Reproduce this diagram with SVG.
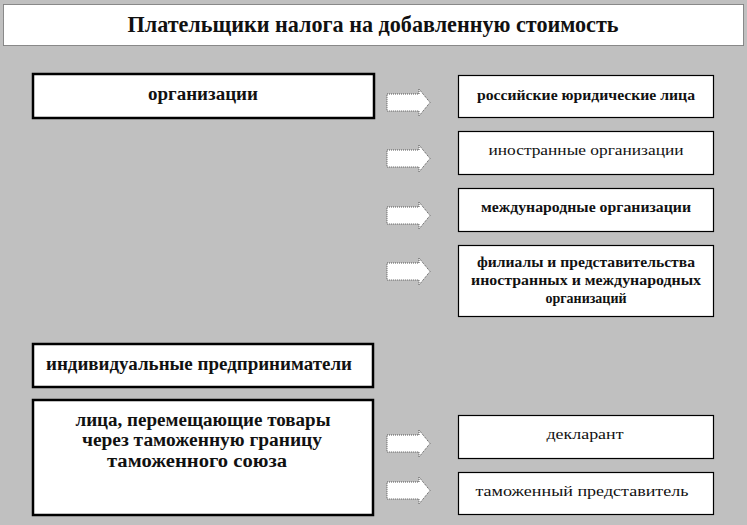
<svg xmlns="http://www.w3.org/2000/svg" width="747" height="525" viewBox="0 0 747 525">
<style>
.bg{fill:#c0c0c0}
.lbox{fill:#fff;stroke:#000;stroke-width:2.5}
.rbox{fill:#fff;stroke:#000;stroke-width:1.2}
.t{font-family:"Liberation Serif","Times New Roman","DejaVu Serif",serif;fill:#111;text-anchor:middle}
.b{font-weight:bold}
.lt{font-size:18px}
.rt{font-size:15px}
.arrow{fill:#fff;stroke:#555;stroke-width:1;stroke-dasharray:1 1}
</style>
<defs>
<path id="arr" d="M0,5 H32 V0 L43,13.5 L32,27 V22 H0 Z"/>
</defs>
<rect class="bg" x="0" y="0" width="747" height="525"/>
<g id="title">
<rect x="3.5" y="4.5" width="740" height="41" fill="#fff" stroke="#333" stroke-width="1" stroke-dasharray="1 1"/>
<text class="t b" x="373" y="32" font-size="24" textLength="491" lengthAdjust="spacingAndGlyphs">Плательщики налога на добавленную стоимость</text>
</g>
<g id="organizations">
<rect class="lbox" x="33" y="74" width="341" height="44"/>
<text class="t b lt" x="203" y="100" textLength="110" lengthAdjust="spacingAndGlyphs">организации</text>
</g>
<g id="ip">
<rect class="lbox" x="33" y="344" width="340" height="43"/>
<text class="t b lt" x="199" y="370" textLength="306" lengthAdjust="spacingAndGlyphs">индивидуальные предприниматели</text>
</g>
<g id="persons">
<rect class="lbox" x="33" y="400" width="340" height="115"/>
<text class="t b lt" x="203" y="426" textLength="255" lengthAdjust="spacingAndGlyphs">лица, перемещающие товары</text>
<text class="t b lt" x="202" y="446" textLength="240" lengthAdjust="spacingAndGlyphs">через таможенную границу</text>
<text class="t b lt" x="197" y="467" textLength="180" lengthAdjust="spacingAndGlyphs">таможенного союза</text>
</g>
<g id="russian">
<rect class="rbox" x="458.5" y="75.5" width="255" height="42"/>
<text class="t b rt" x="586" y="100" textLength="218" lengthAdjust="spacingAndGlyphs">российские юридические лица</text>
</g>
<g id="foreign">
<rect class="rbox" x="458.5" y="131.5" width="255" height="43"/>
<text class="t rt" x="586" y="155" textLength="195" lengthAdjust="spacingAndGlyphs">иностранные организации</text>
</g>
<g id="international">
<rect class="rbox" x="458.5" y="188.5" width="255" height="43"/>
<text class="t b rt" x="586" y="212" textLength="210" lengthAdjust="spacingAndGlyphs">международные организации</text>
</g>
<g id="branches">
<rect class="rbox" x="458.5" y="245.5" width="255" height="71"/>
<text class="t b rt" x="586" y="267" textLength="218" lengthAdjust="spacingAndGlyphs">филиалы и представительства</text>
<text class="t b rt" x="586" y="285" textLength="230" lengthAdjust="spacingAndGlyphs">иностранных и международных</text>
<text class="t b rt" x="586" y="303" textLength="81" lengthAdjust="spacingAndGlyphs">организаций</text>
</g>
<g id="declarant">
<rect class="rbox" x="458.5" y="415.5" width="255" height="43"/>
<text class="t rt" x="585" y="439" textLength="77" lengthAdjust="spacingAndGlyphs">декларант</text>
</g>
<g id="representative">
<rect class="rbox" x="458.5" y="472.5" width="255" height="42"/>
<text class="t rt" x="582" y="496" textLength="213" lengthAdjust="spacingAndGlyphs">таможенный представитель</text>
</g>
<g id="connectors">
<use href="#arr" class="arrow" x="387" y="89"/>
<use href="#arr" class="arrow" x="387" y="145"/>
<use href="#arr" class="arrow" x="387" y="202"/>
<use href="#arr" class="arrow" x="387" y="258"/>
<use href="#arr" class="arrow" x="387" y="430"/>
<use href="#arr" class="arrow" x="387" y="477"/>
</g>
</svg>
